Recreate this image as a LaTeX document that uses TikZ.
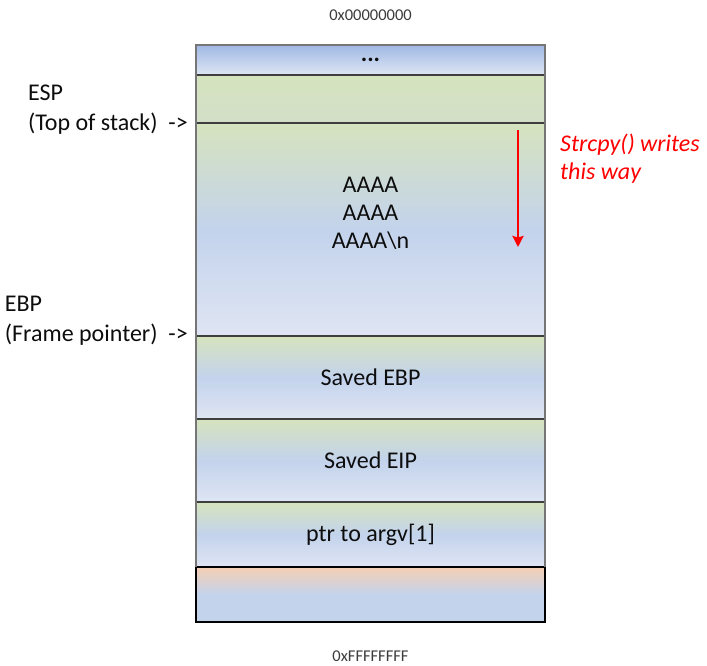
\documentclass[tikz,border=0pt]{standalone}
\usepackage{fontspec}
\setmainfont{Carlito}
\usepackage{tikz}
\usetikzlibrary{positioning}
\usetikzlibrary{arrows.meta}

\definecolor{sepgray}{RGB}{62,62,62}
\definecolor{framegray}{RGB}{118,118,118}
\definecolor{addrgray}{RGB}{60,60,60}
\definecolor{dtop}{RGB}{160,185,228}
\definecolor{dbot}{RGB}{222,230,244}
\definecolor{cgreen}{RGB}{214,227,190}
\definecolor{cgreenb}{RGB}{211,223,200}
\definecolor{cblue}{RGB}{195,211,236}
\definecolor{clight}{RGB}{223,229,243}
\definecolor{corange}{RGB}{246,207,180}
\definecolor{wred}{RGB}{255,0,0}

\begin{document}
\begin{tikzpicture}[x=1pt, y=-1pt, node distance=0pt,
	cell/.style={draw=sepgray, line width=1.2pt, minimum width=349pt, inner sep=0pt, outer sep=0pt,
		font=\fontsize{24}{28}\selectfont, text=black!95},
	stripe/.style={cell, top color=cgreen, bottom color=clight, middle color=cblue},
	lbl/.style={inner sep=0pt, align=left, font=\fontsize{24}{30}\selectfont, text=black!95},
	addr/.style={inner sep=0pt, font=\fontsize{16.5}{20}\selectfont, text=addrgray},
	note/.style={inner sep=0pt, align=left, font=\fontsize{24}{28}\selectfont\itshape, text=wred},
	wdir/.style={draw=wred, line width=2.6pt, -{Stealth[length=11pt,width=11pt,inset=1.5pt]}}]
	\useasboundingbox (0,0) rectangle (707,665);

	\node[cell, minimum height=30pt, top color=dtop, bottom color=dbot]   (dots) at (370.5,60) {\raisebox{-4pt}{\textbf{...}}};
	\node[cell, minimum height=48pt, top color=cgreen, bottom color=cgreenb] (top) [below=of dots] {};
	\node[stripe, minimum height=213pt] (buf)  [below=of top]  {};
	\node[stripe, minimum height=83pt]  (sebp) [below=of buf]  {Saved EBP};
	\node[stripe, minimum height=83pt]  (seip) [below=of sebp] {Saved EIP};
	\node[stripe, minimum height=65pt]  (argv) [below=of seip] {ptr to argv[1]};
	\node[cell, minimum height=55pt, draw=black, line width=1.8pt,
		top color=corange, bottom color=cblue, middle color=cblue] (env) [below=of argv] {};
	\draw[framegray, line width=2pt] (argv.south west) -- (dots.north west) -- (dots.north east) -- (argv.south east);

	\node[align=center, inner sep=0pt, font=\fontsize{24}{28}\selectfont, text=black!95]
		(aaaa) at ([yshift=16pt]buf.center) {AAAA\\AAAA\\AAAA\textbackslash n};

	\node[addr] (lo) at ([yshift=30pt]dots.north) {0x00000000};
	\node[addr] (hi) at ([yshift=-34pt]env.south) {0xFFFFFFFF};

	\node[lbl, anchor=east] (esp) at ([xshift=-8pt,yshift=13pt]buf.north west)  {ESP\\(Top of stack)\ \ ->};
	\node[lbl, anchor=east] (ebp) at ([xshift=-8pt,yshift=15pt]sebp.north west) {EBP\\(Frame pointer)\ \ ->};

	\coordinate (wfrom) at ([xshift=-27pt,yshift=-7pt]buf.north east);
	\coordinate (wto)   at ([xshift=-27pt,yshift=-124pt]buf.north east);
	\draw[wdir] (wfrom) -- (wto);
	\node[note, anchor=west] (how) at ([xshift=15pt,yshift=-36pt]buf.north east) {Strcpy() writes\\this way};
\end{tikzpicture}
\end{document}
